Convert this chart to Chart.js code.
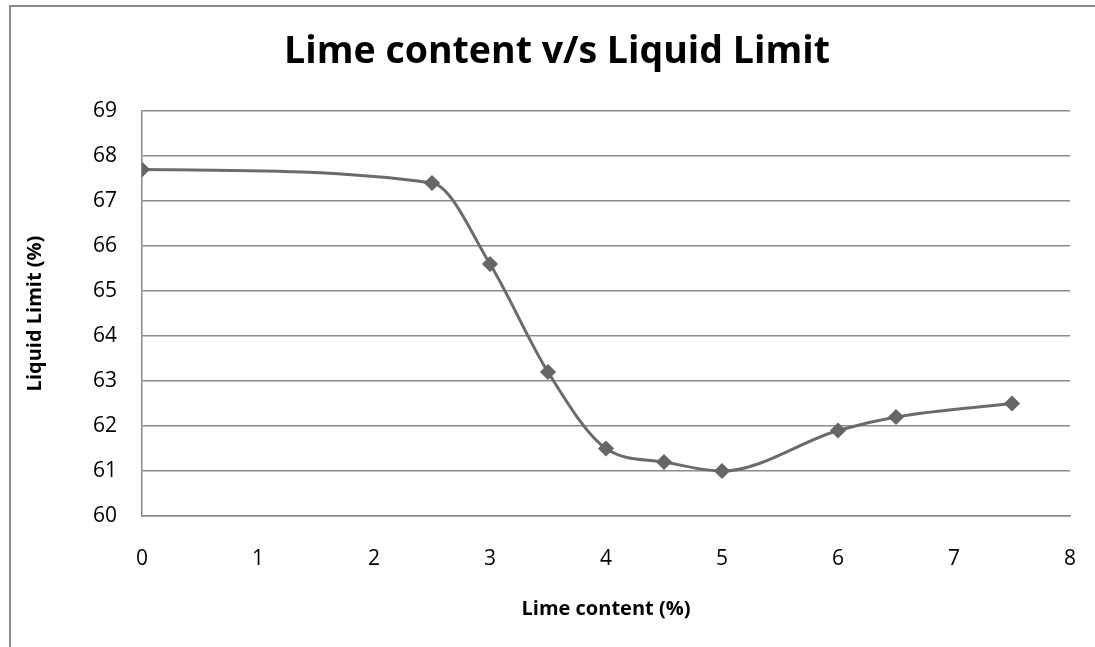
<!DOCTYPE html>
<html>
<head>
<meta charset="utf-8">
<script src="https://cdn.jsdelivr.net/npm/chart.js@4"></script>
<style>
  html, body { margin: 0; padding: 0; background: #fff; overflow: hidden; }
  #wrap { position: relative; width: 1095px; height: 647px; }
  #frame { position: absolute; left: 9px; top: 5px; width: 1200px; height: 800px; border: 2px solid #8a8a8a; box-sizing: border-box; }
  canvas { position: absolute; left: 0; top: 0; }
</style>
</head>
<body>
<div id="wrap">
  <div id="frame"></div>
  <canvas id="chart" width="1095" height="647"></canvas>
</div>
<script>
  var limeContent = [0, 2.5, 3, 3.5, 4, 4.5, 5, 6, 6.5, 7.5];
  var liquidLimit = [67.7, 67.4, 65.6, 63.2, 61.5, 61.2, 61.0, 61.9, 62.2, 62.5];
  var xTicks = [0, 1, 2, 3, 4, 5, 6, 7, 8];
  var yTicks = [60, 61, 62, 63, 64, 65, 66, 67, 68, 69];

  var fontFamily = "'Open Sans', sans-serif";
  var points = limeContent.map((x, i) => ({ x: x, y: liquidLimit[i] }));

  new Chart(document.getElementById('chart'), {
    type: 'line',
    data: {
      datasets: [{
        data: points,
        borderColor: '#6b6b6b',
        borderWidth: 3,
        backgroundColor: '#666',
        pointStyle: 'rectRot',
        pointRadius: 6,
        pointBackgroundColor: '#666',
        pointBorderColor: '#666',
        cubicInterpolationMode: 'monotone',
        fill: false
      }]
    },
    options: {
      responsive: false,
      animation: false,
      // negative right padding only shifts the title centre; the x scale keeps the plot edge
      layout: { padding: { left: 0, right: -19, top: 0, bottom: 22 } },
      scales: {
        x: {
          type: 'linear',
          min: 0, max: 8,
          afterBuildTicks: (scale) => { scale.ticks = xTicks.map(v => ({ value: v })); },
          afterFit: (scale) => {
            scale.height = 109;
            scale.paddingLeft = 0;
            scale.paddingRight = 25;
          },
          grid: { display: false, drawTicks: false },
          border: { color: '#8a8a8a', width: 1.5 },
          ticks: { padding: 30, color: '#000', font: { family: fontFamily, size: 21 } },
          title: { display: true, text: 'Lime content (%)', color: '#000', padding: { top: 28 }, font: { family: fontFamily, size: 20, weight: 'bold' } }
        },
        y: {
          min: 60, max: 69,
          afterBuildTicks: (scale) => { scale.ticks = yTicks.map(v => ({ value: v })); },
          afterFit: (scale) => { scale.width = 142; },
          grid: { color: '#8a8a8a', lineWidth: 1.5, drawTicks: false },
          border: { color: '#8a8a8a', width: 1.5 },
          ticks: { padding: 25, color: '#000', font: { family: fontFamily, size: 21 } },
          title: { display: true, text: 'Liquid Limit (%)', color: '#000', padding: { top: 23 }, font: { family: fontFamily, size: 20, weight: 'bold' } }
        }
      },
      plugins: {
        legend: { display: false },
        tooltip: { enabled: false },
        title: {
          display: true,
          text: 'Lime content v/s Liquid Limit',
          color: '#000',
          padding: { top: 30, bottom: 36 },
          font: { family: fontFamily, size: 37.5, weight: 'bold' }
        }
      }
    }
  });
</script>
</body>
</html>
